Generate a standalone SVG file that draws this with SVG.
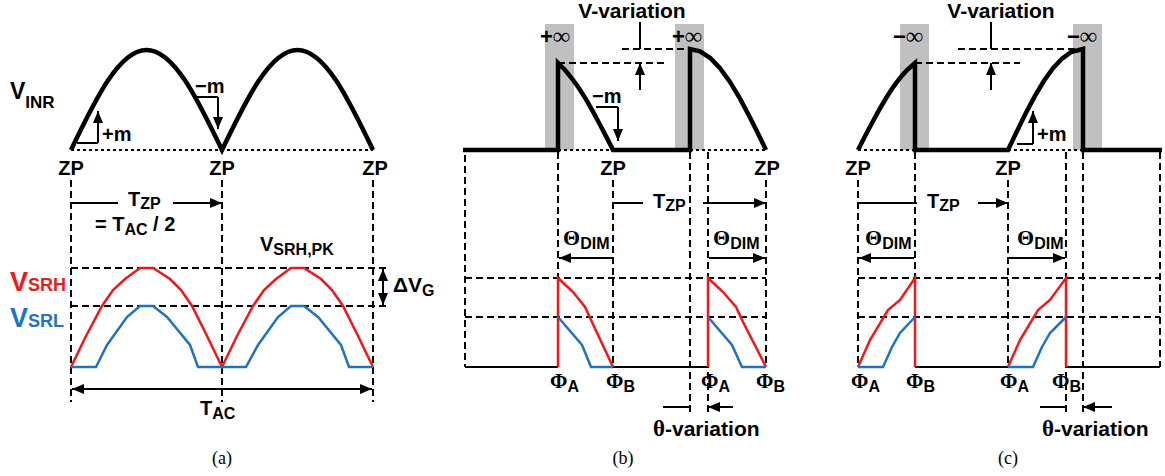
<svg xmlns="http://www.w3.org/2000/svg" width="1165" height="476" viewBox="0 0 1165 476">
<style>
.t{font-family:"Liberation Sans",Arial,sans-serif;font-weight:bold;font-size:20px;fill:#000}
.s{font-size:16px}
.g{font-family:"Liberation Serif","Times New Roman",serif;font-weight:bold}
.cap{font-family:"Liberation Serif","Times New Roman",serif;font-size:18px;fill:#000}
.thick{fill:none;stroke:#000;stroke-width:4.5;stroke-linejoin:miter}
.thin{fill:none;stroke:#000;stroke-width:2}
.dash{fill:none;stroke:#000;stroke-width:2;stroke-dasharray:7 4}
.dot{fill:none;stroke:#000;stroke-width:2;stroke-dasharray:3 3}
.arr{fill:none;stroke:#000;stroke-width:2;marker-end:url(#ah)}
.arr2{fill:none;stroke:#000;stroke-width:2;marker-start:url(#ah);marker-end:url(#ah)}
.red{fill:none;stroke:#f01818;stroke-width:2.5}
.blue{fill:none;stroke:#1e74c2;stroke-width:2.5}
.gray{fill:#c0c0c0}
</style>
<defs>
<marker id="ah" viewBox="0 0 12 10" refX="12" refY="5" markerWidth="12" markerHeight="10" markerUnits="userSpaceOnUse" orient="auto-start-reverse"><path d="M0,0 L12,5 L0,10 z" fill="#000"/></marker>
</defs>
<rect width="1165" height="476" fill="#fff"/>

<!-- Panel (a) -->
<g id="panel-a">
  <g id="a-grid">
    <path class="dot" d="M71 150 H373"/>
    <path class="dash" d="M71 180 V402 M222 180 V402 M373 180 V402"/>
    <path class="dash" d="M71 268 H390 M71 306 H390"/>
  </g>
  <g id="a-vinr">
    <path class="thick" d="M71 150 C95.6 98.8 119.2 50 146.5 50 C173.8 50 197.4 98.8 222 150 C246.6 98.8 270.2 50 297.5 50 C324.8 50 348.4 98.8 373 150"/>
    <text class="t" x="10" y="99" style="font-size:23px">V<tspan dy="9" style="font-size:17px">INR</tspan></text>
  </g>
  <g id="a-plus-m">
    <path class="thin" d="M77 143 H98"/>
    <path class="arr" d="M98 143 V111"/>
    <text class="t" x="102" y="141">+m</text>
  </g>
  <g id="a-minus-m">
    <path class="thin" d="M197 97 H218"/>
    <path class="arr" d="M218 97 V129"/>
    <text class="t" x="195" y="93">−m</text>
  </g>
  <g id="a-zp">
    <text class="t" x="71" y="175" text-anchor="middle">ZP</text>
    <text class="t" x="222" y="175" text-anchor="middle">ZP</text>
    <text class="t" x="375" y="175" text-anchor="middle">ZP</text>
  </g>
  <g id="a-tzp">
    <path class="arr" d="M118 203 H71 M173 203 H222"/>
    <text class="t" x="128" y="206">T<tspan class="s" dy="3">ZP</tspan></text>
    <text class="t" x="95" y="231">= T<tspan class="s" dy="4">AC</tspan><tspan dy="-4"> / 2</tspan></text>
  </g>
  <g id="a-waves">
    <path class="red" d="M71 367 L86 336 L102 306 L113 290 L125 279 L140 268 H153 L170 279 L181 290 L192 306 L207 336 L222 367 L237 336 L253 306 L264 290 L276 279 L291 268 H304 L321 279 L332 290 L343 306 L358 336 L373 367"/>
    <path class="blue" d="M71 367 H96 L107 345 L127 317 L140 306 H153 L167 317 L190 345 L198 367 H246 L258 345 L278 317 L291 306 H304 L318 317 L341 345 L349 367 H373"/>
    <text class="t" x="10" y="291" style="font-size:27px;fill:#f01818">V<tspan style="font-size:18px">SRH</tspan></text>
    <text class="t" x="10" y="327" style="font-size:27px;fill:#1e74c2">V<tspan style="font-size:18px">SRL</tspan></text>
    <text class="t" x="260" y="251">V<tspan class="s" dy="4">SRH,PK</tspan></text>
  </g>
  <g id="a-dvg">
    <path class="arr2" d="M383 269 V305"/>
    <text class="t" x="393" y="292" style="font-size:21px">ΔV<tspan class="s" dy="4">G</tspan></text>
  </g>
  <g id="a-tac">
    <path class="arr2" d="M72 389 H372"/>
    <text class="t" x="200" y="415">T<tspan class="s" dy="4">AC</tspan></text>
  </g>
  <text class="cap" x="222" y="464" text-anchor="middle">(a)</text>
</g>

<!-- Panel (b) -->
<g id="panel-b">
  <g id="b-shading">
    <rect class="gray" x="545" y="24" width="29" height="126"/>
    <rect class="gray" x="675" y="24" width="29" height="126"/>
  </g>
  <g id="b-grid">
    <path class="dot" d="M558 150 H613 M690 150 H766"/>
    <path class="dash" d="M465 155 V367 M558 152 V367 M613 180 V367 M690 152 V412 M708 152 V412 M766 180 V367"/>
    <path class="dash" d="M465 278 H766 M465 317 H766"/>
    <path class="dash" d="M622 49 H690 M558 63 H667"/>
  </g>
  <g id="b-vinr">
    <path class="thick" d="M463 150 H558 V63 L565 70 L572 78.5 L579 88.3 L586 99.4 L593 111.7 L600 124.7 L607 138.1 L613 150 H690 V49 L700 51.3 L710 57.8 L720 68.2 L730 81.9 L740 98.6 L750 117.5 L758 133.5 L766 150"/>
    <text class="t" x="540" y="44" style="font-size:22px">+<tspan class="g" style="font-size:24px">∞</tspan></text>
    <text class="t" x="672" y="44" style="font-size:22px">+<tspan class="g" style="font-size:24px">∞</tspan></text>
  </g>
  <g id="b-vvar">
    <text class="t" x="632" y="18" text-anchor="middle" style="font-size:21px">V-variation</text>
    <path class="arr" d="M640 22 V49 M640 90 V63"/>
  </g>
  <g id="b-minus-m">
    <path class="thin" d="M596 107 H618"/>
    <path class="arr" d="M618 107 V141"/>
    <text class="t" x="592" y="103">−m</text>
  </g>
  <g id="b-zp">
    <text class="t" x="613" y="175" text-anchor="middle">ZP</text>
    <text class="t" x="767" y="175" text-anchor="middle">ZP</text>
  </g>
  <g id="b-tzp">
    <path class="arr" d="M643 203 H613 M703 203 H766"/>
    <text class="t" x="653" y="208">T<tspan class="s" dy="3">ZP</tspan></text>
  </g>
  <g id="b-dim">
    <path class="arr2" d="M559 258 H612 M709 258 H765"/>
    <text class="t" x="563" y="245"><tspan class="g" style="font-size:22px">Θ</tspan><tspan class="s" dy="4">DIM</tspan></text>
    <text class="t" x="713" y="245"><tspan class="g" style="font-size:22px">Θ</tspan><tspan class="s" dy="4">DIM</tspan></text>
  </g>
  <g id="b-waves">
    <path class="thin" d="M465 367 H558 M613 367 H708"/>
    <path class="red" d="M558 367 V278 L573 292 L585 307 L591 320 L613 367"/>
    <path class="blue" d="M558 317 L582 345 L591 367 H613"/>
    <path class="red" d="M708 367 V278 L723 292 L736 307 L742 320 L766 367"/>
    <path class="blue" d="M708 317 L732 345 L742 367 H766"/>
  </g>
  <g id="b-phi">
    <text class="t" x="550" y="388"><tspan class="g" style="font-size:21px">Φ</tspan><tspan class="s" dy="4">A</tspan></text>
    <text class="t" x="606" y="388"><tspan class="g" style="font-size:21px">Φ</tspan><tspan class="s" dy="4">B</tspan></text>
    <text class="t" x="701" y="388"><tspan class="g" style="font-size:21px">Φ</tspan><tspan class="s" dy="4">A</tspan></text>
    <text class="t" x="756" y="388"><tspan class="g" style="font-size:21px">Φ</tspan><tspan class="s" dy="4">B</tspan></text>
  </g>
  <g id="b-thvar">
    <path class="arr" d="M663 407 H690 M733 407 H708"/>
    <text class="t" x="653" y="436" style="font-size:21px"><tspan class="g" style="font-size:23px">θ</tspan>-variation</text>
  </g>
  <text class="cap" x="623" y="464" text-anchor="middle">(b)</text>
</g>

<!-- Panel (c) -->
<g id="panel-c">
  <g id="c-shading">
    <rect class="gray" x="900" y="24" width="29" height="126"/>
    <rect class="gray" x="1073" y="24" width="29" height="126"/>
  </g>
  <g id="c-grid">
    <path class="dot" d="M858 150 H915 M1008 150 H1083"/>
    <path class="dash" d="M858 180 V367 M915 152 V367 M1008 180 V367 M1066 152 V412 M1083 152 V412 M1160 152 V367"/>
    <path class="dash" d="M858 278 H1160 M858 317 H1160"/>
    <path class="dash" d="M958 49 H1083 M915 63 H1020"/>
  </g>
  <g id="c-vinr">
    <path class="thick" d="M858 150 L865 136.3 L872 123 L879 110.2 L886 98.3 L893 87.4 L900 77.9 L907 70.1 L915 63 V150 H1008 L1017 131.1 L1026 112.8 L1035 95.9 L1044 80.8 L1053 68.3 L1062 58.6 L1071 52.1 L1083 49 V150 H1162"/>
    <text class="t" x="893" y="44" style="font-size:22px">−<tspan class="g" style="font-size:24px">∞</tspan></text>
    <text class="t" x="1067" y="44" style="font-size:22px">−<tspan class="g" style="font-size:24px">∞</tspan></text>
  </g>
  <g id="c-vvar">
    <text class="t" x="1001" y="18" text-anchor="middle" style="font-size:21px">V-variation</text>
    <path class="arr" d="M991 22 V49 M991 90 V63"/>
  </g>
  <g id="c-plus-m">
    <path class="thin" d="M1017 144 H1033"/>
    <path class="arr" d="M1033 144 V111"/>
    <text class="t" x="1037" y="141">+m</text>
  </g>
  <g id="c-zp">
    <text class="t" x="858" y="175" text-anchor="middle">ZP</text>
    <text class="t" x="1008" y="175" text-anchor="middle">ZP</text>
  </g>
  <g id="c-tzp">
    <path class="arr" d="M917 203 H858 M978 203 H1008"/>
    <text class="t" x="927" y="208">T<tspan class="s" dy="3">ZP</tspan></text>
  </g>
  <g id="c-dim">
    <path class="arr2" d="M859 258 H914 M1009 258 H1065"/>
    <text class="t" x="865" y="245"><tspan class="g" style="font-size:22px">Θ</tspan><tspan class="s" dy="4">DIM</tspan></text>
    <text class="t" x="1017" y="245"><tspan class="g" style="font-size:22px">Θ</tspan><tspan class="s" dy="4">DIM</tspan></text>
  </g>
  <g id="c-waves">
    <path class="thin" d="M915 367 H1008 M1066 367 H1160"/>
    <path class="red" d="M858 367 L870 340 L888 310 L900 300 L915 278 V367"/>
    <path class="blue" d="M858 367 H883 L892 347 L900 333 L915 317"/>
    <path class="red" d="M1008 367 L1020 340 L1038 310 L1050 300 L1066 278 V367"/>
    <path class="blue" d="M1008 367 H1033 L1042 347 L1050 333 L1066 317"/>
  </g>
  <g id="c-phi">
    <text class="t" x="851" y="388"><tspan class="g" style="font-size:21px">Φ</tspan><tspan class="s" dy="4">A</tspan></text>
    <text class="t" x="906" y="388"><tspan class="g" style="font-size:21px">Φ</tspan><tspan class="s" dy="4">B</tspan></text>
    <text class="t" x="1000" y="388"><tspan class="g" style="font-size:21px">Φ</tspan><tspan class="s" dy="4">A</tspan></text>
    <text class="t" x="1052" y="388"><tspan class="g" style="font-size:21px">Φ</tspan><tspan class="s" dy="4">B</tspan></text>
  </g>
  <g id="c-thvar">
    <path class="arr" d="M1040 407 H1066 M1112 407 H1083"/>
    <text class="t" x="1042" y="436" style="font-size:21px"><tspan class="g" style="font-size:23px">θ</tspan>-variation</text>
  </g>
  <text class="cap" x="1008" y="464" text-anchor="middle">(c)</text>
</g>
</svg>
